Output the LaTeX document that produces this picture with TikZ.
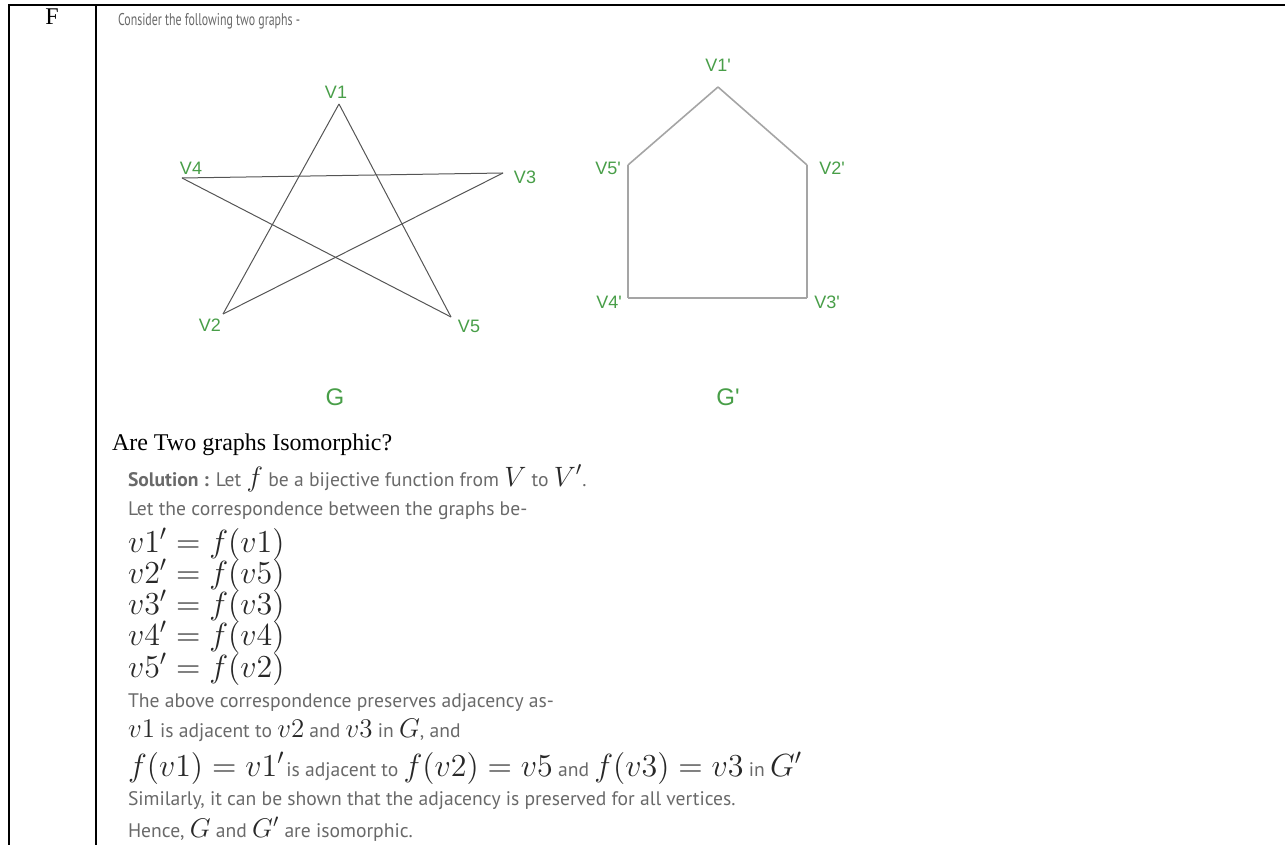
\RequirePackage{fix-cm}
\documentclass[tikz,border=0pt]{standalone}
\usepackage{fontspec}
\usepackage{xcolor}
\usepackage{tikz}
\setmainfont{Liberation Serif}
\newfontfamily\labelfont{Liberation Sans}
\newfontfamily\notefont{PT Sans}
\newfontfamily\topfont[FakeStretch=0.7]{PT Sans}
\definecolor{labelgreen}{RGB}{72,158,72}
\definecolor{notegray}{RGB}{105,105,105}
\definecolor{stargray}{RGB}{85,85,85}
\definecolor{housegray}{RGB}{165,165,165}
\definecolor{mathgray}{RGB}{40,40,40}
\newcommand{\eqm}[1]{{\color{mathgray}\fontsize{16}{18}\selectfont$#1$}}
\newcommand{\midm}[1]{{\color{mathgray}\fontsize{14}{16}\selectfont$#1$}}
\newcommand{\smallm}[1]{{\color{mathgray}\fontsize{13.5}{15}\selectfont$#1$}}

\begin{document}
\begin{tikzpicture}[x=0.5pt, y=-0.5pt, every node/.style={inner sep=0pt, outer sep=0pt},
  vlabel/.style={font=\labelfont\fontsize{9}{11}\selectfont, text=labelgreen},
  glabel/.style={font=\labelfont\fontsize{12}{14}\selectfont, text=labelgreen},
  note/.style={anchor=base west, font=\notefont\fontsize{9.8}{11}\selectfont, text=notegray},
  eqline/.style={anchor=base west, font=\fontsize{16}{18}\selectfont, text=mathgray},
  staredge/.style={stargray, line width=0.5pt},
  houseedge/.style={housegray, line width=0.8pt}]
\useasboundingbox (0,0) rectangle (1285,845);

% Table
\draw[line width=1pt] (9,845) -- (9,5) -- (1285,5);
\draw[line width=1pt] (96,5) -- (96,845);
\node[font=\fontsize{12}{14}\selectfont] (row) at (52,17) {F};

% Question
\node[note, font=\topfont\fontsize{8.5}{10}\selectfont] (intro) at (118,26) {Consider the following two graphs -};

% Graph G
\coordinate (v1) at (339,104);
\coordinate (v2) at (223,314);
\coordinate (v3) at (503,173);
\coordinate (v4) at (182,178);
\coordinate (v5) at (451,317);
\node[vlabel] (l1) at (336,92) {V1};
\node[vlabel] (l2) at (210,325) {V2};
\node[vlabel] (l3) at (525,177) {V3};
\node[vlabel] (l4) at (191,168) {V4};
\node[vlabel] (l5) at (469,326) {V5};
\draw[staredge] (v1) -- (v2);
\draw[staredge] (v1) -- (v5);
\draw[staredge] (v4) -- (v3);
\draw[staredge] (v4) -- (v5);
\draw[staredge] (v3) -- (v2);
\node[glabel] (g) at (335,397) {G};

% Graph G'
\coordinate (w1) at (718,87);
\coordinate (w2) at (807,165);
\coordinate (w3) at (807,298);
\coordinate (w4) at (628,298);
\coordinate (w5) at (628,165);
\node[vlabel] (k1) at (718,65) {V1'};
\node[vlabel] (k2) at (832,168) {V2'};
\node[vlabel] (k3) at (827,302) {V3'};
\node[vlabel] (k4) at (609,302) {V4'};
\node[vlabel] (k5) at (608,168) {V5'};
\draw[houseedge] (w1) -- (w5);
\draw[houseedge] (w1) -- (w2);
\draw[houseedge] (w5) -- (w4);
\draw[houseedge] (w4) -- (w3);
\draw[houseedge] (w2) -- (w3);
\node[glabel] (gp) at (728,397) {G'};

% Answer
\node[anchor=base west, font=\fontsize{12}{14}\selectfont] (ask) at (112,450) {Are Two graphs Isomorphic?};
\node[note] (sol) at (128,486) {\textbf{Solution :} Let \midm{f} be a bijective function from \midm{V} to \midm{V'}.};
\node[note] (corr) at (128,515) {Let the correspondence between the graphs be-};
\node[eqline] (e1) at (128,552) {$v1' = f(v1)$};
\node[eqline] (e2) at (128,583) {$v2' = f(v5)$};
\node[eqline] (e3) at (128,614) {$v3' = f(v3)$};
\node[eqline] (e4) at (128,645) {$v4' = f(v4)$};
\node[eqline] (e5) at (128,677) {$v5' = f(v2)$};
\node[note] (pres) at (128,707) {The above correspondence preserves adjacency as-};
\node[note] (adj1) at (128,737) {\smallm{v1} is adjacent to \smallm{v2} and \smallm{v3} in \smallm{G}, and};
\node[note] (adj2) at (128,776) {\eqm{f(v1) = v1'}\hspace{1pt}is adjacent to \eqm{f(v2) = v5} and \eqm{f(v3) = v3} in \eqm{G'}};
\node[note] (sim) at (128,805) {Similarly, it can be shown that the adjacency is preserved for all vertices.};
\node[note] (hence) at (128,837) {Hence, \smallm{G} and \smallm{G'} are isomorphic.};
\end{tikzpicture}
\end{document}
